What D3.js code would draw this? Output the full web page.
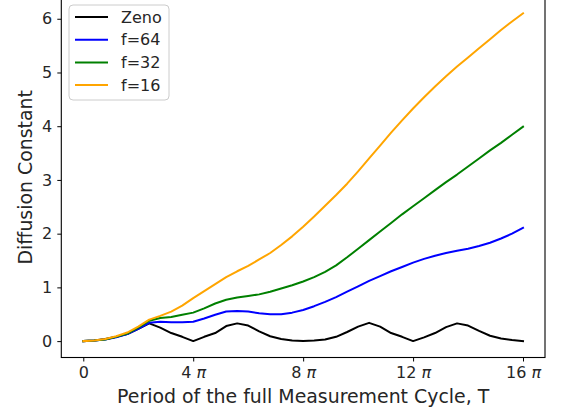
<!DOCTYPE html>
<head>
    <meta charset="utf-8">
    <title>Diffusion constant vs measurement cycle</title>
    <style>
        body { margin: 0; background: #fff; }
        svg text { font-family: "DejaVu Sans", sans-serif; fill: #262626; }
    </style>
</head>
<body>
<svg width="561" height="410"></svg>

<script src="https://d3js.org/d3.v7.min.js"></script>
<script>

    //data: period T in units of pi
    var periodT = [0, 0.4, 0.8, 1.2, 1.6, 2.0, 2.4, 2.8, 3.2, 3.6, 4.0, 4.4, 4.8, 5.2, 5.6, 6.0, 6.4, 6.8, 7.2, 7.6,
                   8.0, 8.4, 8.8, 9.2, 9.6, 10.0, 10.4, 10.8, 11.2, 11.6, 12.0, 12.4, 12.8, 13.2, 13.6, 14.0, 14.4, 14.8, 15.2, 15.6, 16.0];

    var zeno = [0.00, 0.01, 0.04, 0.08, 0.13, 0.23, 0.33, 0.25, 0.15, 0.08, 0.00, 0.08, 0.15, 0.28, 0.33, 0.29, 0.18, 0.09, 0.04, 0.01,
                0.00, 0.01, 0.03, 0.08, 0.17, 0.27, 0.34, 0.27, 0.15, 0.08, 0.00, 0.07, 0.15, 0.26, 0.33, 0.29, 0.19, 0.10, 0.05, 0.02, 0.00];

    var f64 = [0.00, 0.01, 0.03, 0.07, 0.13, 0.23, 0.34, 0.36, 0.35, 0.35, 0.36, 0.42, 0.49, 0.55, 0.56, 0.55, 0.52, 0.50, 0.50, 0.53,
               0.58, 0.65, 0.73, 0.82, 0.92, 1.02, 1.12, 1.21, 1.30, 1.38, 1.46, 1.53, 1.59, 1.64, 1.68, 1.72, 1.77, 1.83, 1.91, 2.00, 2.11];

    var f32 = [0.00, 0.01, 0.03, 0.08, 0.14, 0.25, 0.38, 0.43, 0.45, 0.49, 0.53, 0.61, 0.70, 0.77, 0.81, 0.84, 0.87, 0.92, 0.98, 1.04,
               1.11, 1.19, 1.29, 1.41, 1.56, 1.72, 1.88, 2.04, 2.20, 2.36, 2.51, 2.66, 2.81, 2.96, 3.10, 3.25, 3.40, 3.55, 3.69, 3.84, 3.99];

    var f16 = [0.00, 0.01, 0.04, 0.09, 0.16, 0.27, 0.40, 0.47, 0.55, 0.66, 0.80, 0.93, 1.06, 1.19, 1.30, 1.40, 1.52, 1.64, 1.79, 1.95,
               2.13, 2.32, 2.52, 2.72, 2.93, 3.16, 3.40, 3.64, 3.88, 4.11, 4.33, 4.54, 4.74, 4.93, 5.11, 5.28, 5.45, 5.62, 5.79, 5.95, 6.10];

    var seriesNames = ["Zeno", "f=64", "f=32", "f=16"];
    var seriesColors = ["#000000", "#0000ff", "#008000", "#ffa500"];
    var seriesValues = [zeno, f64, f32, f16];

    var xTicks = [0, 4, 8, 12, 16];
    var yTicks = [0, 1, 2, 3, 4, 5, 6];

    //svg setting
    var svg = d3.select("svg");
    var plotLeft = 61.3, plotRight = 545, plotTop = -3, plotBottom = 357.5;

    var x = d3.scaleLinear().domain([-0.8, 16.8]).range([plotLeft, plotRight]);
    var y = d3.scaleLinear().domain([-0.305, 6.405]).range([plotBottom, plotTop]);

    //lines
    var line = d3.line()
        .x(function(d, i) { return x(periodT[i]); })
        .y(function(d) { return y(d); });

    svg.append("g")
        .selectAll("path")
        .data(seriesValues)
        .enter().append("path")
            .attr("fill", "none")
            .attr("stroke", function(d, i) { return seriesColors[i]; })
            .attr("stroke-width", 2)
            .attr("stroke-linejoin", "round")
            .attr("stroke-linecap", "square")
            .attr("d", line);

    //axes
    var xAxis = svg.append("g")
        .attr("transform", "translate(0," + plotBottom + ")")
        .call(d3.axisBottom(x).tickValues(xTicks).tickSize(4).tickPadding(5).tickFormat(""));
    xAxis.select(".domain").remove();
    xAxis.selectAll(".tick text")
        .attr("font-size", 16)
        .each(function(d) {
            var t = d3.select(this);
            t.text(d === 0 ? "0" : d + " ");
            if (d !== 0) t.append("tspan").attr("font-style", "italic").text("π");
        });

    var yAxis = svg.append("g")
        .attr("transform", "translate(" + plotLeft + ",0)")
        .call(d3.axisLeft(y).tickValues(yTicks).tickSize(4).tickPadding(5).tickFormat(d3.format("d")));
    yAxis.select(".domain").remove();
    yAxis.selectAll(".tick text").attr("font-size", 16);
    svg.selectAll(".tick line").attr("stroke", "#000");

    //frame
    svg.append("rect")
        .attr("x", plotLeft).attr("y", plotTop)
        .attr("width", plotRight - plotLeft).attr("height", plotBottom - plotTop)
        .attr("fill", "none").attr("stroke", "#000").attr("stroke-width", 1.1);

    //labels
    svg.append("text")
        .attr("x", (plotLeft + plotRight) / 2).attr("y", 403)
        .attr("text-anchor", "middle").attr("font-size", 18.9)
        .text("Period of the full Measurement Cycle, T");

    svg.append("text")
        .attr("transform", "translate(32," + (plotTop + plotBottom) / 2 + ") rotate(-90)")
        .attr("text-anchor", "middle").attr("font-size", 18.9)
        .text("Diffusion Constant");

    //legend
    var legend = svg.append("g").attr("transform", "translate(69,5)");
    legend.append("rect")
        .attr("width", 100).attr("height", 95).attr("rx", 4)
        .attr("fill", "#fff").attr("fill-opacity", 0.8)
        .attr("stroke", "#cccccc").attr("stroke-width", 1);
    var items = legend.selectAll("g.item")
        .data(seriesNames)
        .enter().append("g")
            .attr("class", "item")
            .attr("transform", function(d, i) { return "translate(0," + (12 + i * 22.7) + ")"; });
    items.append("line")
        .attr("x1", 6).attr("x2", 39)
        .attr("stroke", function(d, i) { return seriesColors[i]; })
        .attr("stroke-width", 2);
    items.append("text")
        .attr("x", 52).attr("dy", "0.36em")
        .attr("font-size", 16)
        .text(function(d) { return d; });

</script>
</body>
